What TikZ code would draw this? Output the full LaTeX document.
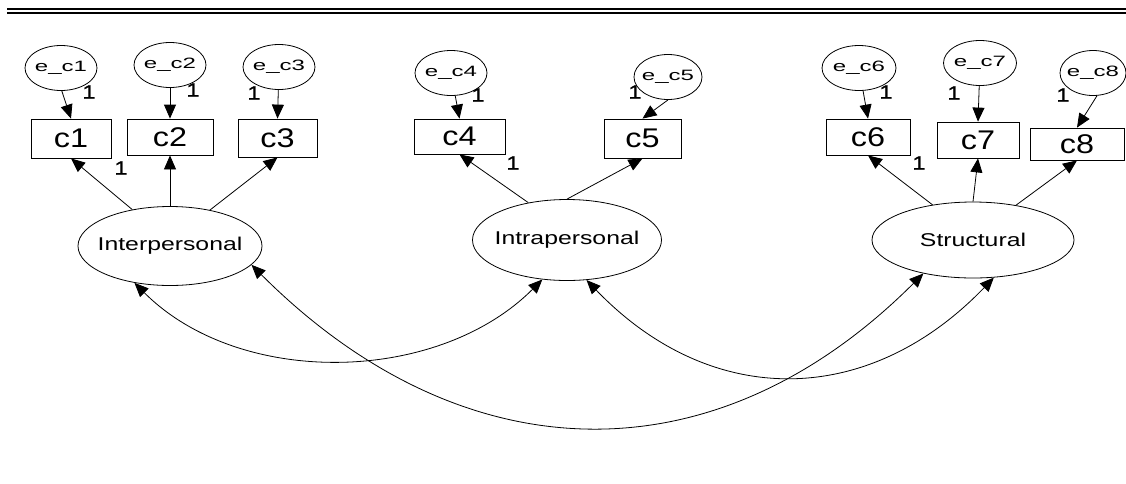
\documentclass[tikz,border=0pt]{standalone}
\usepackage{fontspec}
\usetikzlibrary{shapes.geometric,arrows.meta}
% Wide sans faces for the different kinds of labels
\newfontfamily\semLatFont[FakeStretch=1.34]{Liberation Sans}
\newfontfamily\semObsFont[FakeStretch=1.2]{Liberation Sans}
\newfontfamily\semErrFont[FakeStretch=1.6]{Liberation Sans}
\newfontfamily\semOneFont[FakeStretch=1.25,FakeBold=1.2]{Liberation Sans}
\newcommand{\semLat}{\semLatFont\fontsize{18.5}{20}\selectfont}
\newcommand{\semObs}{\semObsFont\fontsize{27}{29}\selectfont}
\newcommand{\semErr}{\semErrFont\fontsize{15}{17}\selectfont}
\newcommand{\semOne}{\semOneFont\fontsize{19}{21}\selectfont}
\newcommand{\cl}[1]{\makebox[0pt][c]{#1}}
\begin{document}
\begin{tikzpicture}[x=1pt,y=-1pt,
  errv/.style={ellipse, draw, line width=0.8pt, inner sep=0pt,
               minimum width=72pt, minimum height=45pt, font=\semErr},
  obsv/.style={rectangle, draw, line width=0.8pt, inner sep=0pt, font=\semObs},
  latv/.style={ellipse, draw, line width=0.8pt, inner sep=0pt, font=\semLat},
  one/.style={inner sep=0pt, font=\semOne},
  reg/.style={-{Triangle[length=14pt,width=12pt]}, line width=0.8pt},
  covar/.style={{Triangle[length=14pt,width=12pt]}-{Triangle[length=14pt,width=12pt]}, line width=0.8pt}]
\fill[white] (0,0) rectangle (1126,483);
\useasboundingbox (0,0) rectangle (1126,483);

% double rule at the top
\draw[line width=2.2pt] (7,9) -- (1126,9);
\draw[line width=2.2pt] (7,13.2) -- (1126,13.2);

% observed indicators
\node[obsv, minimum width=80pt, minimum height=39pt] (c1) at (71,138.5) {c1};
\node[obsv, minimum width=86pt, minimum height=36pt] (c2) at (170,137) {c2};
\node[obsv, minimum width=79pt, minimum height=38pt] (c3) at (277.5,138) {c3};
\node[obsv, minimum width=91pt, minimum height=35pt] (c4) at (459.5,136.5) {c4};
\node[obsv, minimum width=77pt, minimum height=39pt] (c5) at (642.5,138.5) {c5};
\node[obsv, minimum width=84pt, minimum height=36pt] (c6) at (868,137) {c6};
\node[obsv, minimum width=82pt, minimum height=36pt] (c7) at (978,140) {c7};
\node[obsv, minimum width=94pt, minimum height=32pt] (c8) at (1077,144) {c8};

% error terms
\node[errv] (e1) at (61,68) {\cl{e\_c1}};
\node[errv] (e2) at (170,65) {\cl{e\_c2}};
\node[errv] (e3) at (279,67) {\cl{e\_c3}};
\node[errv] (e4) at (451,73) {\cl{e\_c4}};
\node[errv, minimum width=68pt] (e5) at (668,77) {\cl{e\_c5}};
\node[errv, minimum width=74pt] (e6) at (859,68) {\cl{e\_c6}};
\node[errv, minimum width=73pt] (e7) at (980,63) {\cl{e\_c7}};
\node[errv, minimum width=66pt] (e8) at (1093,73) {\cl{e\_c8}};

% latent factors
\node[latv, minimum width=184pt, minimum height=79pt] (inter) at (170,246) {\cl{Interpersonal}};
\node[latv, minimum width=189pt, minimum height=81pt] (intra) at (567,240) {\cl{Intrapersonal}};
\node[latv, minimum width=202pt, minimum height=76pt] (struct) at (973,240) {\cl{Structural}};

% error paths
\draw[reg] (e1.-88) -- (c1.north);
\draw[reg] (e2) -- (c2.north);
\draw[reg] (e3) -- (c3.north);
\draw[reg] (e4) -- (c4.north);
\draw[reg] (e5.-90) -- (c5.north);
\draw[reg] (e6) -- (c6.north);
\draw[reg] (e7) -- (c7.north);
\draw[reg] (e8.-80) -- (c8.north);

% loadings
\draw[reg] (inter.136.5) -- (c1.south);
\draw[reg] (inter.90) -- (c2.south);
\draw[reg] (inter.42.7) -- (c3.south);
\draw[reg] (intra.136.6) -- (c4.south);
\draw[reg] (intra.90) -- (c5.south);
\draw[reg] (struct.139.8) -- (c6.south);
\draw[reg] (struct.90) -- (c7.south);
\draw[reg] (struct.39.5) -- (c8.south);

% factor covariances
\draw[covar] (inter.226.2) .. controls +(105,105) and +(-105,105) .. (intra.-122.6);
\draw[covar] (inter.-13) .. controls +(210,210) and +(-210,210) .. (struct.214.8);
\draw[covar] (intra.-64.4) .. controls +(125,130) and +(-125,130) .. (struct.-61.7);

% fixed weights
\node[one] (w1) at (89,92) {1};
\node[one] (w2) at (193,90) {1};
\node[one] (w3) at (254,93) {1};
\node[one] (w4) at (478,95) {1};
\node[one] (w5) at (635,92) {1};
\node[one] (w6) at (886,92) {1};
\node[one] (w7) at (954,93) {1};
\node[one] (w8) at (1063,95) {1};
\node[one] (l1) at (121,168) {1};
\node[one] (l4) at (513,163) {1};
\node[one] (l6) at (919,163) {1};
\end{tikzpicture}
\end{document}
